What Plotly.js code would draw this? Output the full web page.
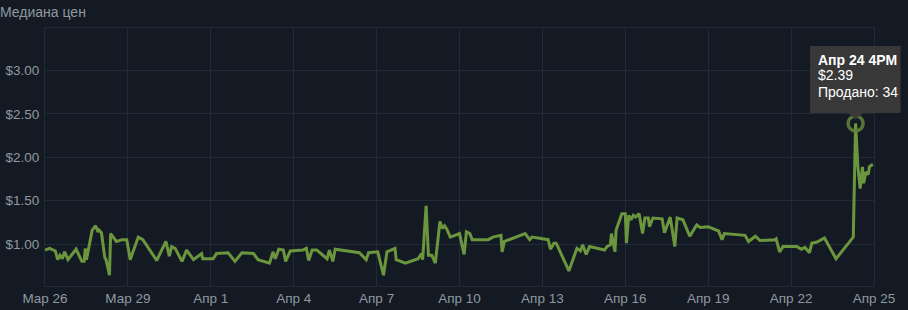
<!DOCTYPE html>
<html>
<head>
<meta charset="utf-8">
<script src="https://cdn.plot.ly/plotly-3.0.1.min.js"></script>
<style>
  html, body { margin: 0; padding: 0; background: #131a24; }
  #chart { width: 908px; height: 310px; }
</style>
</head>
<body>
<div id="chart"></div>
<script>
const chartTitle = 'Медиана цен';

const dates = [
  '2025-03-26 00:00','2025-03-26 04:00','2025-03-26 09:00','2025-03-26 11:00','2025-03-26 13:00','2025-03-26 15:00','2025-03-26 17:00','2025-03-26 20:00',
  '2025-03-27 03:00','2025-03-27 08:00','2025-03-27 10:00','2025-03-27 11:00','2025-03-27 12:00','2025-03-27 14:00','2025-03-27 17:00','2025-03-27 20:00',
  '2025-03-27 22:00','2025-03-27 23:00','2025-03-28 01:00','2025-03-28 04:00','2025-03-28 05:00','2025-03-28 08:00','2025-03-28 09:00','2025-03-28 14:00',
  '2025-03-28 19:00','2025-03-28 23:00','2025-03-29 02:00','2025-03-29 09:00','2025-03-29 13:00','2025-03-30 01:00','2025-03-30 09:00','2025-03-30 12:00',
  '2025-03-30 14:00','2025-03-30 17:00','2025-03-30 23:00','2025-03-31 03:00','2025-03-31 09:00','2025-03-31 16:00','2025-03-31 17:00','2025-04-01 02:00',
  '2025-04-01 05:00','2025-04-01 15:00','2025-04-01 21:00','2025-04-02 03:00','2025-04-02 13:00','2025-04-02 17:00','2025-04-03 03:00','2025-04-03 06:00',
  '2025-04-03 08:00','2025-04-03 11:00','2025-04-03 15:00','2025-04-03 17:00','2025-04-03 21:00','2025-04-04 08:00','2025-04-04 11:00','2025-04-04 13:00',
  '2025-04-04 16:00','2025-04-04 20:00','2025-04-05 05:00','2025-04-05 07:00','2025-04-05 10:00','2025-04-05 12:00','2025-04-06 09:00','2025-04-06 15:00',
  '2025-04-06 17:00','2025-04-07 01:00','2025-04-07 06:00','2025-04-07 09:00','2025-04-07 16:00','2025-04-07 17:00','2025-04-08 01:00','2025-04-08 12:00',
  '2025-04-08 15:00','2025-04-08 16:00','2025-04-08 19:00','2025-04-08 21:00','2025-04-09 00:00','2025-04-09 03:00','2025-04-09 07:00','2025-04-09 09:00',
  '2025-04-09 11:00','2025-04-09 13:00','2025-04-09 16:00','2025-04-10 00:00','2025-04-10 04:00','2025-04-10 06:00','2025-04-10 09:00','2025-04-10 11:00',
  '2025-04-11 01:00','2025-04-11 05:00','2025-04-11 12:00','2025-04-11 13:00','2025-04-11 15:00','2025-04-12 09:00','2025-04-12 13:00','2025-04-12 15:00',
  '2025-04-13 05:00','2025-04-13 07:00','2025-04-13 10:00','2025-04-13 12:00','2025-04-13 23:00','2025-04-14 06:00','2025-04-14 09:00','2025-04-14 11:00',
  '2025-04-14 14:00','2025-04-14 17:00','2025-04-15 06:00','2025-04-15 08:00','2025-04-15 11:00','2025-04-15 12:00','2025-04-15 15:00','2025-04-15 16:00',
  '2025-04-15 21:00','2025-04-16 00:00','2025-04-16 01:00','2025-04-16 03:00','2025-04-16 05:00','2025-04-16 07:00','2025-04-16 09:00','2025-04-16 12:00',
  '2025-04-16 15:00','2025-04-16 17:00','2025-04-16 20:00','2025-04-16 21:00','2025-04-17 00:00','2025-04-17 08:00','2025-04-17 10:00','2025-04-17 15:00',
  '2025-04-17 19:00','2025-04-17 21:00','2025-04-18 02:00','2025-04-18 08:00','2025-04-18 14:00','2025-04-18 17:00','2025-04-19 00:00','2025-04-19 09:00',
  '2025-04-19 12:00','2025-04-19 14:00','2025-04-20 08:00','2025-04-20 11:00','2025-04-20 17:00','2025-04-20 21:00','2025-04-21 10:00','2025-04-21 11:00',
  '2025-04-21 14:00','2025-04-21 17:00','2025-04-22 05:00','2025-04-22 09:00','2025-04-22 12:00','2025-04-22 16:00','2025-04-22 18:00','2025-04-22 22:00',
  '2025-04-23 05:00','2025-04-23 15:00','2025-04-24 06:00','2025-04-24 08:00','2025-04-24 10:00','2025-04-24 12:00','2025-04-24 14:00','2025-04-24 15:00',
  '2025-04-24 17:00','2025-04-24 19:00','2025-04-24 20:00','2025-04-24 23:00'
];

const prices = [
  0.93,0.95,0.92,0.82,0.87,0.83,0.91,0.82,
  0.94,0.80,0.80,0.95,0.82,0.97,1.16,1.21,
  1.14,1.16,1.13,0.84,0.82,0.64,1.12,1.03,
  1.05,1.05,0.82,1.08,1.05,0.81,1.03,0.86,
  0.97,0.95,0.80,0.93,0.82,0.89,0.83,0.83,
  0.89,0.90,0.80,0.90,0.89,0.82,0.78,0.91,
  0.83,0.94,0.93,0.80,0.92,0.93,0.95,0.81,
  0.93,0.93,0.83,0.93,0.80,0.94,0.90,0.82,
  0.90,0.91,0.64,0.91,0.95,0.82,0.78,0.83,
  0.89,0.82,1.44,0.87,0.87,0.78,1.26,1.18,
  1.21,1.17,1.08,1.12,0.88,1.14,1.12,1.05,
  1.05,1.08,1.10,0.91,1.03,1.12,1.05,1.08,
  1.05,0.94,1.01,1.01,0.69,0.95,0.92,0.99,
  0.88,0.97,0.93,0.97,0.99,1.12,0.91,1.16,
  1.35,1.35,1.01,1.33,1.28,1.33,1.31,1.35,
  1.12,1.30,1.30,1.20,1.30,1.29,1.13,1.31,
  0.97,1.30,1.28,1.09,1.22,1.19,1.20,1.15,
  1.05,1.12,1.10,1.03,1.09,1.04,1.05,1.06,
  0.91,0.97,0.97,0.94,0.96,0.90,1.01,1.02,
  1.07,0.83,1.08,2.39,1.89,1.64,1.89,1.70,
  1.83,1.80,1.89,1.92
];

const xTickVals = ['2025-03-26','2025-03-29','2025-04-01','2025-04-04','2025-04-07','2025-04-10','2025-04-13','2025-04-16','2025-04-19','2025-04-22','2025-04-25'];
const xTickText = ['Мар 26','Мар 29','Апр 1','Апр 4','Апр 7','Апр 10','Апр 13','Апр 16','Апр 19','Апр 22','Апр 25'];
const yTickVals = [1.0, 1.5, 2.0, 2.5, 3.0];
const yTickText = ['$1.00','$1.50','$2.00','$2.50','$3.00'];

const tooltipLabel = 'Апр 24 4PM';
const tooltipSold = 34;

const xRange = ['2025-03-26 00:00', '2025-04-25 00:00'];
const yRange = [0.516, 3.49];

let peakIdx = 0;
prices.forEach((p, i) => { if (p > prices[peakIdx]) peakIdx = i; });
const peakX = dates[peakIdx];
const peakY = prices[peakIdx];

// peak position as a fraction of the plot area (so tooltip shapes are not clipped)
const toMs = s => new Date(s.replace(' ', 'T') + ':00Z').getTime();
const peakFx = (toMs(peakX) - toMs(xRange[0])) / (toMs(xRange[1]) - toMs(xRange[0]));
const peakFy = (peakY - yRange[0]) / (yRange[1] - yRange[0]);

const bg = '#131a24';
const grid = '#212b38';
const tickColor = '#8f98a0';
const lineColor = '#6b963d';
const tipBg = 'rgba(58,58,58,0.97)';
const fontFam = 'Arial, "Liberation Sans", sans-serif';

const tooltipLines = ['<b>' + tooltipLabel + '</b>', '$' + peakY.toFixed(2), 'Продано: ' + tooltipSold];
const tooltipLineShift = [63, 48, 31.5];

const traces = [
  {
    x: dates, y: prices, type: 'scatter', mode: 'lines',
    line: { color: lineColor, width: 3, shape: 'linear' },
    hoverinfo: 'skip'
  },
  {
    x: [peakX], y: [peakY], type: 'scatter', mode: 'markers',
    marker: { symbol: 'circle-open', size: 15, color: 'rgba(95,128,58,0.9)', line: { width: 3.5 } },
    cliponaxis: false, hoverinfo: 'skip'
  }
];

const layout = {
  width: 908, height: 310,
  margin: { l: 45, r: 34, t: 28, b: 24 },
  paper_bgcolor: bg, plot_bgcolor: bg,
  showlegend: false,
  font: { family: fontFam, size: 13.5, color: tickColor },
  title: {
    text: chartTitle, x: 0, xref: 'container', xanchor: 'left',
    y: 0.962, yref: 'container', yanchor: 'middle',
    font: { size: 14, color: tickColor, family: fontFam }
  },
  xaxis: {
    type: 'date', range: xRange,
    tickmode: 'array', tickvals: xTickVals, ticktext: xTickText,
    showgrid: true, gridcolor: grid, gridwidth: 1,
    showline: true, linecolor: grid, linewidth: 1, mirror: true,
    zeroline: false, ticks: '', tickfont: { color: tickColor, size: 13.5 },
    fixedrange: true
  },
  yaxis: {
    range: yRange,
    tickmode: 'array', tickvals: yTickVals, ticktext: yTickText,
    showgrid: true, gridcolor: grid, gridwidth: 1,
    showline: true, linecolor: grid, linewidth: 1, mirror: true,
    zeroline: false, ticks: '', tickfont: { color: tickColor, size: 13.5 },
    ticklabelstandoff: 2,
    fixedrange: true
  },
  annotations: tooltipLines.map((t, i) => ({
    x: peakX, y: peakY, xref: 'x', yref: 'y',
    showarrow: false, xanchor: 'left', yanchor: 'middle',
    xshift: -40, yshift: tooltipLineShift[i],
    align: 'left', text: t,
    font: { family: fontFam, size: 14, color: '#ffffff' }
  })),
  shapes: [
    {
      type: 'path', xref: 'paper', yref: 'paper',
      xsizemode: 'pixel', ysizemode: 'pixel', xanchor: peakFx, yanchor: peakFy,
      path: 'M -45.5,10.5 L 45,10.5 L 45,77.5 L -45.5,77.5 Z',
      fillcolor: tipBg, line: { width: 0 }, layer: 'above'
    },
    {
      type: 'path', xref: 'paper', yref: 'paper',
      xsizemode: 'pixel', ysizemode: 'pixel', xanchor: peakFx, yanchor: peakFy,
      path: 'M -8,11 L 8,11 L 0,4 Z',
      fillcolor: tipBg, line: { width: 0 }, layer: 'above'
    }
  ]
};

Plotly.newPlot('chart', traces, layout, { displayModeBar: false, staticPlot: true });
</script>
</body>
</html>
